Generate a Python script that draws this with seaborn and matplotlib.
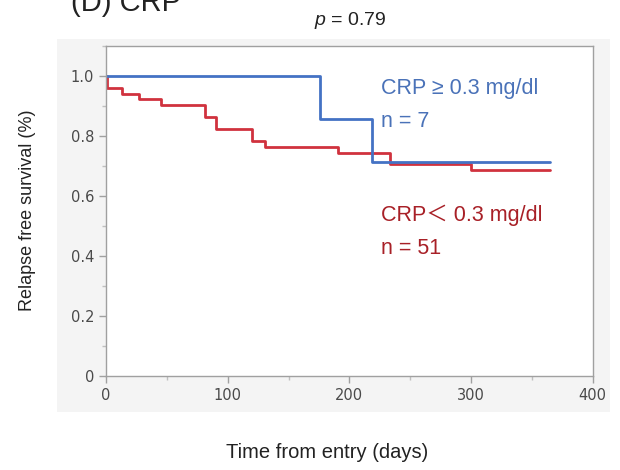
import numpy as np
import pandas as pd
import matplotlib
matplotlib.use("Agg")
import matplotlib.pyplot as plt
from matplotlib.patches import Rectangle
from matplotlib.ticker import MultipleLocator, FixedLocator
import seaborn as sns

# Kaplan-Meier steps
high_days = [0, 176, 219, 365]
high_surv = [1.0, 0.857, 0.714, 0.714]
low_days = [0, 1, 13, 27, 45, 81, 90, 120, 131, 191, 233, 300, 365]
low_surv = [1.0, 0.961, 0.941, 0.922, 0.902, 0.863, 0.824, 0.784, 0.765, 0.745, 0.706, 0.686, 0.686]
groups = ["CRP < 0.3", "CRP >= 0.3"]
x_ticks = [0, 100, 200, 300, 400]
y_ticks = [0, 0.2, 0.4, 0.6, 0.8, 1.0]
y_tick_labels = ["0", "0.2", "0.4", "0.6", "0.8", "1.0"]

blue = "#4472c4"
red = "#d0323e"

sns.set_theme(style="white")
plt.rcParams["font.family"] = ["Liberation Sans", "DejaVu Sans", "Noto Sans CJK JP"]
plt.rcParams["mathtext.fontset"] = "custom"
plt.rcParams["mathtext.it"] = "Liberation Sans:italic"
plt.rcParams["mathtext.rm"] = "Liberation Sans"

df = pd.concat([
    pd.DataFrame({"day": low_days, "surv": low_surv, "group": groups[0]}),
    pd.DataFrame({"day": high_days, "surv": high_surv, "group": groups[1]}),
])

fig = plt.figure(figsize=(6.2, 4.7), dpi=100)
fig.patch.set_facecolor("white")
# light grey panel behind the plot
panel = Rectangle((0.092, 0.123), 0.892, 0.794, transform=fig.transFigure,
                  facecolor="#f4f4f4", edgecolor="none", zorder=-10)
fig.add_artist(panel)
ax = fig.add_axes([0.171, 0.2, 0.785, 0.702])
ax.set_zorder(1)
ax.set_facecolor("white")

sns.lineplot(data=df, x="day", y="surv", hue="group", hue_order=groups,
             palette={groups[0]: red, groups[1]: blue}, drawstyle="steps-post",
             estimator=None, sort=False, linewidth=2, legend=False, ax=ax)

ax.set_xlim(0, 400)
ax.set_ylim(0, 1.1)
ax.xaxis.set_major_locator(FixedLocator(x_ticks))
ax.xaxis.set_minor_locator(MultipleLocator(50))
ax.yaxis.set_major_locator(FixedLocator(y_ticks))
ax.yaxis.set_minor_locator(MultipleLocator(0.1))
ax.set_yticklabels(y_tick_labels)
ax.set_xlabel("")
ax.set_ylabel("")
for s in ax.spines.values():
    s.set_color("#a0a0a0")
    s.set_linewidth(1)
ax.tick_params(which="major", direction="out", length=5, width=1, color="#a0a0a0",
               labelsize=10.5, labelcolor="#4a4a4a", left=True, bottom=True)
ax.tick_params(which="minor", direction="out", length=3, width=1, color="#c0c0c0",
               left=True, bottom=True)
for lab in ax.get_xticklabels() + ax.get_yticklabels():
    lab.set_family("DejaVu Sans")

ax.text(226, 0.957, "CRP ≥ 0.3 mg/dl", color="#4a72b8", fontsize=15.5, va="center")
ax.text(226, 0.85, "n = 7", color="#4a72b8", fontsize=15.5, va="center")
ax.text(226, 0.535, "CRP＜ 0.3 mg/dl", color="#a82027", fontsize=15.5, va="center",
        family=["Liberation Sans", "Noto Sans CJK JP"])
ax.text(226, 0.425, "n = 51", color="#a82027", fontsize=15.5, va="center")

fig.text(0.115, 0.976, "(D) CRP", fontsize=21, color="#222222", va="baseline")
fig.text(0.565, 0.957, r"$p$ = 0.79", fontsize=14, color="#222222", ha="center", va="center")
fig.text(0.045, 0.553, "Relapse free survival (%)", fontsize=13, rotation=90,
         ha="center", va="center", color="#222222")
fig.text(0.527, 0.038, "Time from entry (days)", fontsize=14.5, ha="center",
         va="center", color="#222222")

fig.savefig("out.png", dpi=100)
